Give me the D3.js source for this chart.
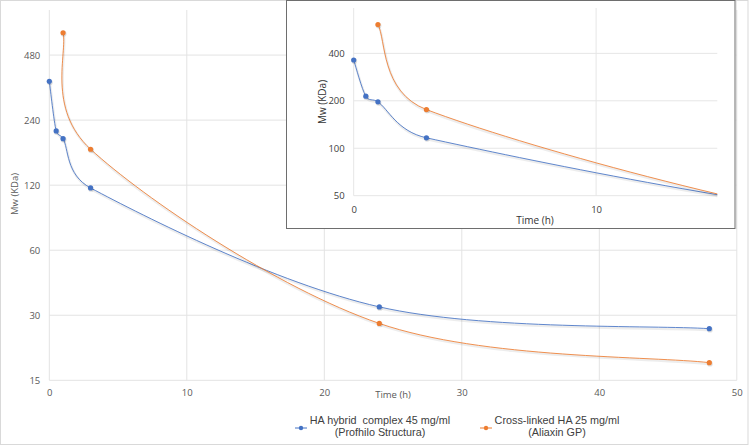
<!DOCTYPE html>
<html>
<head>
<meta charset="utf-8">
<script src="https://cdn.jsdelivr.net/npm/d3@7"></script>
<style>
html,body{margin:0;padding:0;background:#fff;}
svg{display:block;}
</style>
</head>
<body>
<script>
// ---- data ----
const hybridTimes = [0, 0.5, 1, 3, 24, 48];
const hybridMw = [363, 214, 197, 116.5, 32.8, 26.0];
const crossTimes = [1, 3, 24, 48];
const crossMw = [609, 176, 27.5, 18.1];
const mainYTicks = [15, 30, 60, 120, 240, 480];
const mainXTicks = [0, 10, 20, 30, 40, 50];
const insetYTicks = [50, 100, 200, 400];
const insetXTicks = [0, 10];
const seriesNames = [["HA hybrid  complex 45 mg/ml", "(Profhilo Structura)"], ["Cross-linked HA 25 mg/ml", "(Aliaxin GP)"]];
const seriesColors = ["#4472C4", "#ED7D31"];

const W = 749, H = 446;
const svg = d3.select("body").append("svg").attr("width", W).attr("height", H);

svg.append("rect").attr("x", 0.5).attr("y", 0.5).attr("width", W - 1.5).attr("height", H - 2)
  .attr("fill", "#fff").attr("stroke", "#d9d9d9");

const series = [
  {t: hybridTimes, v: hybridMw, c: seriesColors[0]},
  {t: crossTimes, v: crossMw, c: seriesColors[1]}
];

const tickFont = "'Open Sans', sans-serif";

// Excel-like smoothing (Bezier with limited control points)
function excelSmooth(pts) {
  const p = d3.path();
  const n = pts.length;
  const dist = (a, b) => Math.hypot(b[0] - a[0], b[1] - a[1]);
  p.moveTo(pts[0][0], pts[0][1]);
  const tension = 1 / 6;
  for (let i = 0; i < n - 1; i++) {
    const p0 = pts[Math.max(0, i - 1)], p1 = pts[i], p2 = pts[i + 1], p3 = pts[Math.min(n - 1, i + 2)];
    const d12 = dist(p1, p2), d02 = dist(p0, p2), d13 = dist(p1, p3);
    let f0 = tension, f1 = tension;
    if (d02 * tension >= d12 / 2 && d02 > 0) f0 = d12 / d02 / 2;
    if (d13 * tension >= d12 / 2 && d13 > 0) f1 = d12 / d13 / 2;
    const c1 = [p1[0] + f0 * (p2[0] - p0[0]), p1[1] + f0 * (p2[1] - p0[1])];
    const c2 = [p2[0] - f1 * (p3[0] - p1[0]), p2[1] - f1 * (p3[1] - p1[1])];
    p.bezierCurveTo(c1[0], c1[1], c2[0], c2[1], p2[0], p2[1]);
  }
  return p.toString();
}

// ---- main chart ----
const x = d3.scaleLinear().domain([0, 50]).range([49.3, 736.8]);
const y = d3.scaleLog().base(2).domain([15, 776]).range([380.3, 10]);

const g = svg.append("g");
g.selectAll(".hg").data(mainYTicks).join("line")
  .attr("x1", x(0)).attr("x2", x(50)).attr("y1", d => y(d)).attr("y2", d => y(d))
  .attr("stroke", "#e3e3e3").attr("stroke-width", 1);
g.selectAll(".vg").data(mainXTicks).join("line")
  .attr("x1", d => x(d)).attr("x2", d => x(d)).attr("y1", y(776)).attr("y2", y(15))
  .attr("stroke", "#e3e3e3").attr("stroke-width", 1);

const yAxis = d3.axisLeft(y).tickValues(mainYTicks).tickFormat(d3.format("d")).tickSize(0).tickPadding(9);
const ya = g.append("g").attr("transform", `translate(${x(0)},0)`).call(yAxis);
ya.select(".domain").remove();
ya.selectAll("text").attr("fill", "#595959").attr("font-family", tickFont).attr("font-size", "9.5px");

const xAxis = d3.axisBottom(x).tickValues(mainXTicks).tickFormat(d3.format("d")).tickSize(0).tickPadding(9);
const xa = g.append("g").attr("transform", `translate(0,${y(15)})`).call(xAxis);
xa.select(".domain").remove();
xa.selectAll("text").attr("fill", "#595959").attr("font-family", tickFont).attr("font-size", "9.5px");

g.append("text").attr("x", 393).attr("y", 398).attr("text-anchor", "middle")
  .attr("font-family", tickFont).attr("font-size", "9.5px").attr("fill", "#595959").text("Time (h)");
g.append("text").attr("transform", "translate(18,194) rotate(-90)").attr("text-anchor", "middle")
  .attr("font-family", tickFont).attr("font-size", "9.5px").attr("fill", "#595959").text("Mw (KDa)");

function drawSeries(parent, xs, ys, clip) {
  const layer = parent.append("g");
  if (clip) layer.attr("clip-path", clip);
  series.forEach(s => {
    const pts = s.t.map((t, i) => [xs(t), ys(s.v[i])]);
    const d = excelSmooth(pts);
    layer.append("path").attr("d", d).attr("fill", "none")
      .attr("stroke", "rgba(0,0,0,0.07)").attr("stroke-width", 2.5).attr("transform", "translate(0.6,1.4)");
    layer.append("path").attr("d", d).attr("fill", "none")
      .attr("stroke", s.c).attr("stroke-width", 1).attr("stroke-opacity", 0.85);
    layer.selectAll(null).data(pts).join("circle")
      .attr("cx", d => d[0] + 0.6).attr("cy", d => d[1] + 1).attr("r", 2.9).attr("fill", "rgba(0,0,0,0.12)");
    layer.selectAll(null).data(pts).join("circle")
      .attr("cx", d => d[0]).attr("cy", d => d[1]).attr("r", 2.6).attr("fill", s.c);
  });
}
drawSeries(g, x, y, null);

// ---- legend ----
const legend = svg.append("g").attr("font-family", "'Liberation Sans', Arial, sans-serif").attr("font-size", "10.8px").attr("fill", "#404040");
const legendItems = [{lx: 295, cx: 380}, {lx: 480, cx: 557}];
legendItems.forEach((it, i) => {
  legend.append("line").attr("x1", it.lx).attr("x2", it.lx + 12).attr("y1", 428).attr("y2", 428)
    .attr("stroke", seriesColors[i]).attr("stroke-width", 1);
  legend.append("circle").attr("cx", it.lx + 6).attr("cy", 428).attr("r", 2.2).attr("fill", seriesColors[i]);
  legend.append("text").attr("x", it.cx).attr("y", 424).attr("text-anchor", "middle")
    .style("white-space", "pre").text(seriesNames[i][0]);
  legend.append("text").attr("x", it.cx).attr("y", 436).attr("text-anchor", "middle")
    .style("white-space", "pre").text(seriesNames[i][1]);
});

// ---- inset ----
const inset = svg.append("g");
inset.append("rect").attr("x", 286.5).attr("y", 0.5).attr("width", 448.5).attr("height", 228)
  .attr("fill", "#fff").attr("stroke", "#6e6e6e").attr("stroke-width", 1);
inset.append("line").attr("x1", 735.8).attr("x2", 735.8).attr("y1", 1).attr("y2", 229)
  .attr("stroke", "#b5b5b5").attr("stroke-width", 1);

const ix = d3.scaleLinear().domain([0, 15]).range([353.7, 717.3]);
const iy = d3.scaleLog().base(2).domain([50, 776]).range([195.7, 8]);

inset.selectAll(".ihg").data(insetYTicks).join("line")
  .attr("x1", ix(0)).attr("x2", ix(15)).attr("y1", d => iy(d)).attr("y2", d => iy(d))
  .attr("stroke", "#e6e6e6");
inset.selectAll(".ivg").data(insetXTicks).join("line")
  .attr("x1", d => ix(d)).attr("x2", d => ix(d)).attr("y1", iy(776)).attr("y2", iy(50))
  .attr("stroke", "#e6e6e6");

const iya = inset.append("g").attr("transform", `translate(${ix(0)},0)`)
  .call(d3.axisLeft(iy).tickValues(insetYTicks).tickFormat(d3.format("d")).tickSize(0).tickPadding(9));
iya.select(".domain").remove();
iya.selectAll("text").attr("fill", "#404040").attr("font-family", tickFont).attr("font-size", "9.5px");

const ixa = inset.append("g").attr("transform", `translate(0,${iy(50) + 3})`)
  .call(d3.axisBottom(ix).tickValues(insetXTicks).tickFormat(d3.format("d")).tickSize(0).tickPadding(8));
ixa.select(".domain").remove();
ixa.selectAll("text").attr("fill", "#404040").attr("font-family", tickFont).attr("font-size", "9.5px");

inset.append("text").attr("x", 535).attr("y", 224).attr("text-anchor", "middle")
  .attr("font-family", tickFont).attr("font-size", "10px").attr("fill", "#333").text("Time (h)");
inset.append("text").attr("transform", "translate(326,102) rotate(-90)").attr("text-anchor", "middle")
  .attr("font-family", tickFont).attr("font-size", "10px").attr("fill", "#333").text("Mw (KDa)");

svg.append("defs").append("clipPath").attr("id", "insetClip").append("rect")
  .attr("x", ix(0) - 5).attr("y", 4).attr("width", ix(15) - ix(0) + 5).attr("height", 200);
drawSeries(inset, ix, iy, "url(#insetClip)");
</script>
</body>
</html>
